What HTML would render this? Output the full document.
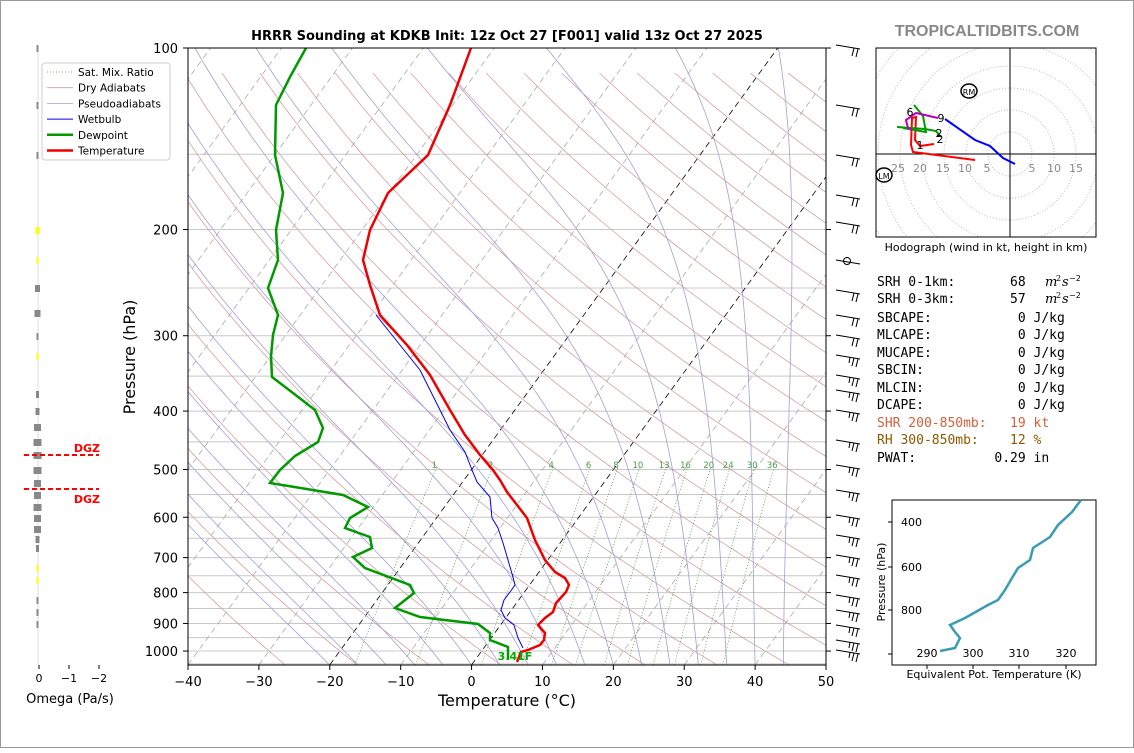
<!DOCTYPE html>
<html><head><meta charset="utf-8"><style>
body{margin:0;background:#fff;width:1134px;height:748px;overflow:hidden;font-family:"Liberation Sans","DejaVu Sans",sans-serif;}
text.m{white-space:pre;}
</style></head><body>
<svg id="s" width="1134" height="748" xmlns="http://www.w3.org/2000/svg" font-family="DejaVu Sans, Liberation Sans, sans-serif">
<rect x="0.5" y="0.5" width="1133" height="747" fill="#fff" stroke="#999"/>
<defs><clipPath id="c"><rect x="188" y="48" width="638" height="617"/></clipPath>
<clipPath id="h"><rect x="876" y="48" width="220" height="189"/></clipPath></defs>
<g id="bg" clip-path="url(#c)"></g>
<g id="fg"></g>
</svg>
<script>
var NS="http://www.w3.org/2000/svg",bg=document.getElementById('bg'),fg=document.getElementById('fg');
function el(p,t,a,txt){var e=document.createElementNS(NS,t);for(var k in a)e.setAttribute(k,a[k]);if(txt!=null)e.textContent=txt;p.appendChild(e);return e;}
function Y(p){return 48+261.9*Math.log(p/100);}
function X(T,p){return 188+(T+40)*7.0889+(665-Y(p))*0.726;}
function pl(g,pts,a){a.points=pts.map(function(q){return q[0].toFixed(1)+','+q[1].toFixed(1)}).join(' ');a.fill='none';el(g,'polyline',a);}
for(var p=100;p<=1050;p+=50)el(bg,'line',{x1:188,x2:826,y1:Y(p),y2:Y(p),stroke:'#c8c8c8','stroke-width':1});
for(var T=-120;T<=50;T+=10){var dash=(T==0||T==-20)?'#000':'#aaa';el(bg,'line',{x1:X(T,1055),y1:665,x2:X(T,100),y2:48,stroke:dash,'stroke-width':0.8,'stroke-dasharray':'6,4'});}
for(var th=-30;th<=220;th+=10){var pts=[];for(var p=1055;p>=100;p-=15){var t=(th+273.15)*Math.pow(p/1000,0.2857)-273.15;pts.push([X(t,p),Y(p)]);}pl(bg,pts,{stroke:'#d4a0a0','stroke-width':0.8});}
function es(t){return 6.112*Math.exp(17.67*t/(t+243.5));}
for(var t0=-20;t0<=44;t0+=4){var t=t0,pts=[];for(var p=1055;p>=100;p-=5){pts.push([X(t,p),Y(p)]);var TK=t+273.15,rs=0.622*es(t)/(p-es(t));var d=(287*TK+2.5e6*rs)/(p*(1004+2.5e6*2.5e6*rs*0.622/(287*TK*TK)));t-=d*5;}pl(bg,pts,{stroke:'#a0a0d8','stroke-width':0.8});}
[1,2,4,6,8,10,13,16,20,24,30,36].forEach(function(w){var pts=[];for(var p=1055;p>=480;p-=20){var e=w/1000*p/(0.622+w/1000);var l=Math.log(e/6.112);var t=243.5*l/(17.67-l);pts.push([X(t,p),Y(p)]);}pl(bg,pts,{stroke:'#4a9a4a','stroke-width':0.8,'stroke-dasharray':'1,2'});var e=w/1000*500/(0.622+w/1000),l=Math.log(e/6.112),t=243.5*l/(17.67-l);el(bg,'text',{x:X(t,490)-5,y:468,'font-size':8.5,fill:'#4a9a4a','text-anchor':'middle'},w);});
pl(bg,[[376,315],[400,345],[420,370],[435,400],[450,430],[465,452],[472,470],[477,482],[490,497],[492,518],[498,528],[503,543],[508,560],[513,577],[515,585],[510,592],[504,600],[501,610],[505,618],[514,625],[518,638],[523,648]],{stroke:'#0000ee','stroke-width':1});
pl(bg,[[306,48],[290,77],[276,105],[275,155],[283,193],[276,230],[278,260],[268,288],[278,315],[273,335],[271,356],[272,377],[293,393],[315,410],[323,428],[318,442],[295,456],[280,470],[270,483],[343,495],[368,507],[350,518],[345,528],[370,537],[372,548],[353,557],[365,568],[410,585],[414,593],[395,608],[420,617],[478,624],[490,633],[490,640],[508,647],[508,660]],{stroke:'#009900','stroke-width':2.5});
pl(bg,[[471,48],[450,105],[428,155],[388,193],[370,230],[363,260],[370,285],[380,315],[407,345],[430,375],[450,410],[465,435],[480,455],[493,470],[500,480],[507,492],[517,505],[527,518],[535,540],[545,560],[555,572],[565,578],[569,585],[566,592],[556,603],[553,612],[545,618],[538,625],[545,633],[544,640],[540,645],[528,650],[521,652],[517,662]],{stroke:'#ee0000','stroke-width':2.5});
el(fg,'text',{x:515,y:660,'font-size':11,'font-weight':'bold',fill:'#00aa00','text-anchor':'middle'},'3.41F');
el(fg,'rect',{x:188,y:48,width:638,height:617,fill:'none',stroke:'#000','stroke-width':1});
[100,200,300,400,500,600,700,800,900,1000].forEach(function(p){var y=Y(p);el(fg,'line',{x1:183,x2:188,y1:y,y2:y,stroke:'#000'});el(fg,'line',{x1:826,x2:831,y1:y,y2:y,stroke:'#000'});el(fg,'text',{x:178,y:y+5,'font-size':13,'text-anchor':'end'},p);});
for(var T=-40;T<=50;T+=10){var x=188+(T+40)*7.0889;el(fg,'line',{x1:x,x2:x,y1:665,y2:670,stroke:'#000'});el(fg,'text',{x:x,y:686,'font-size':13,'text-anchor':'middle'},T<0?'\u2212'+(-T):T);}
el(fg,'text',{x:507,y:706,'font-size':16,'text-anchor':'middle'},'Temperature (°C)');
el(fg,'text',{x:135,y:357,'font-size':16,'text-anchor':'middle',transform:'rotate(-90 135 357)'},'Pressure (hPa)');
el(fg,'text',{x:507,y:40,'font-size':13,'font-weight':'bold','text-anchor':'middle'},'HRRR Sounding at KDKB Init: 12z Oct 27 [F001] valid 13z Oct 27 2025');
el(fg,'text',{x:987,y:36,'font-size':16,'font-weight':'bold',fill:'#888','text-anchor':'middle','font-family':'Liberation Sans'},'TROPICALTIDBITS.COM');
var lg=el(fg,'g',{});el(lg,'rect',{x:42,y:63,width:128,height:97,fill:'#fff',stroke:'#ccc',rx:3});
[['Sat. Mix. Ratio','#4a9a4a',0.8,'1,2'],['Dry Adiabats','#d4a0a0',0.8,''],['Pseudoadiabats','#a0a0d8',0.8,''],['Wetbulb','#0000ee',1,''],['Dewpoint','#009900',2.5,''],['Temperature','#ee0000',2.5,'']].forEach(function(r,i){var y=72+i*15.7;el(lg,'line',{x1:47,x2:73,y1:y,y2:y,stroke:r[1],'stroke-width':r[2],'stroke-dasharray':r[3]});el(lg,'text',{x:78,y:y+4,'font-size':10.5},r[0]);});
[45,105,155,195,222,260,290,315,335,355,375,390,410,440,465,490,515,535,555,575,595,610,625,640,650].forEach(function(y,i){el(fg,'line',{x1:836,y1:y,x2:860,y2:y+4,stroke:'#000','stroke-width':1});if(i!=5){el(fg,'line',{x1:858,y1:y+4,x2:856,y2:y+12,stroke:'#000'});el(fg,'line',{x1:854,y1:y+3,x2:852,y2:y+11,stroke:'#000'});if(i>8){el(fg,'line',{x1:850,y1:y+2,x2:849,y2:y+8,stroke:'#000'});}}});
el(fg,'circle',{cx:847,cy:261,r:3.5,fill:'none',stroke:'#000'});
el(fg,'line',{x1:38,x2:38,y1:48,y2:665,stroke:'#ddd'});
[[48,1],[105,1],[155,1],[230,3,'#ff0'],[260,1,'#ff0'],[288,4],[313,5],[336,1],[356,1,'#ff0'],[394,2],[411,3],[427,6],[442,7],[455,7],[470,7],[483,6],[495,6],[507,7],[518,6],[529,6],[539,3],[548,2],[568,1,'#ff0'],[580,1,'#ff0'],[600,1],[612,1],[624,1]].forEach(function(b){el(fg,'rect',{x:38-b[1]/2-1,y:b[0]-3,width:b[1]+1,height:7,fill:b[2]||'#888'});});
el(fg,'line',{x1:24,x2:99,y1:455,y2:455,stroke:'#f00','stroke-width':2,'stroke-dasharray':'5,3'});
el(fg,'line',{x1:24,x2:99,y1:489,y2:489,stroke:'#f00','stroke-width':2,'stroke-dasharray':'5,3'});
el(fg,'text',{x:100,y:452,'font-size':11,'font-weight':'bold',fill:'#f00','text-anchor':'end'},'DGZ');
el(fg,'text',{x:100,y:503,'font-size':11,'font-weight':'bold',fill:'#f00','text-anchor':'end'},'DGZ');
[['0',39],['\u22121',69],['\u22122',99]].forEach(function(t){el(fg,'line',{x1:t[1],x2:t[1],y1:665,y2:669,stroke:'#000'});el(fg,'text',{x:t[1],y:682,'font-size':11,'text-anchor':'middle'},t[0]);});
el(fg,'text',{x:70,y:703,'font-size':13,'text-anchor':'middle'},'Omega (Pa/s)');
var hg=el(fg,'g',{'clip-path':'url(#h)'});var cx=1010,cy=154,k=4.4;
for(var r=5;r<=40;r+=5)el(hg,'circle',{cx:cx,cy:cy,r:r*k,fill:'none',stroke:'#bbb','stroke-dasharray':'1,2'});
el(hg,'line',{x1:876,x2:1096,y1:cy,y2:cy,stroke:'#000'});el(hg,'line',{x1:cx,x2:cx,y1:48,y2:237,stroke:'#000'});
pl(hg,[[975,160],[913,152],[911,145],[912,118],[916,117],[915,140],[920,146],[934,144]],{stroke:'#f00','stroke-width':2});
pl(hg,[[897,127],[925,129],[936,131],[940,136]],{stroke:'#090','stroke-width':2});
pl(hg,[[914,105],[923,116],[926,132],[903,128]],{stroke:'#090','stroke-width':2});
pl(hg,[[938,118],[916,113],[906,120],[908,128],[912,130]],{stroke:'#b0b','stroke-width':2});
pl(hg,[[945,119],[975,140],[990,146],[1003,158],[1015,164]],{stroke:'#00f','stroke-width':2});
[['6',910,116],['9',941,122],['1',920,149],['2',940,143],['2',939,137]].forEach(function(t){el(fg,'text',{x:t[1],y:t[2],'font-size':11,'text-anchor':'middle'},t[0]);});
[['25',898],['20',920],['15',943],['10',965],['5',987],['5',1032],['10',1054],['15',1076]].forEach(function(t){el(fg,'text',{x:t[1],y:172,'font-size':11,fill:'#888','text-anchor':'middle'},t[0]);});
el(fg,'ellipse',{cx:969,cy:91,rx:8,ry:7,fill:'#fff',stroke:'#000','stroke-width':1.5});el(fg,'text',{x:969,y:95,'font-size':8,'text-anchor':'middle'},'RM');
el(fg,'ellipse',{cx:884,cy:175,rx:8,ry:7,fill:'#fff',stroke:'#000','stroke-width':1.5});el(fg,'text',{x:884,y:179,'font-size':8,'text-anchor':'middle'},'LM');
el(fg,'rect',{x:876,y:48,width:220,height:189,fill:'none',stroke:'#000'});
el(fg,'text',{x:986,y:251,'font-size':11,'text-anchor':'middle'},'Hodograph (wind in kt, height in km)');
var tl=[['SRH 0-1km:       68','#000',282,1],['SRH 0-3km:       57','#000',299,1],['SBCAPE:           0 J/kg','#000',318],['MLCAPE:           0 J/kg','#000',335],['MUCAPE:           0 J/kg','#000',353],['SBCIN:            0 J/kg','#000',370],['MLCIN:            0 J/kg','#000',388],['DCAPE:            0 J/kg','#000',405],['SHR 200-850mb:   19 kt','#d2603a',423],['RH 300-850mb:    12 %','#8b5a00',440],['PWAT:          0.29 in','#000',458]];
tl.forEach(function(t){el(fg,'text',{x:877,y:t[2]+4,'font-size':13,fill:t[1],'class':'m','font-family':'DejaVu Sans Mono, Liberation Mono, monospace'},t[0]);if(t[3]){el(fg,'text',{x:1045,y:t[2]+4,'font-size':13,'font-style':'italic','font-family':'DejaVu Serif, serif'},'m');el(fg,'text',{x:1056,y:t[2]-1,'font-size':8,'font-family':'DejaVu Serif, serif'},'2');el(fg,'text',{x:1062,y:t[2]+4,'font-size':13,'font-style':'italic','font-family':'DejaVu Serif, serif'},'s');el(fg,'text',{x:1069,y:t[2]-1,'font-size':8,'font-family':'DejaVu Sans'},'\u22122');}});
el(fg,'rect',{x:892,y:500,width:204,height:165,fill:'none',stroke:'#000'});
[[400,522],[600,567],[800,610]].forEach(function(t){el(fg,'line',{x1:888,x2:892,y1:t[1],y2:t[1],stroke:'#000'});el(fg,'text',{x:922,y:t[1]+4,'font-size':11,'text-anchor':'end'},t[0]);});
el(fg,'line',{x1:888,x2:892,y1:654,y2:654,stroke:'#000'});
[[290,927],[300,973],[310,1019],[320,1066]].forEach(function(t){el(fg,'line',{x1:t[1],x2:t[1],y1:665,y2:669,stroke:'#000'});el(fg,'text',{x:t[1],y:657,'font-size':11,'text-anchor':'middle'},t[0]);});
el(fg,'text',{x:994,y:678,'font-size':11,'text-anchor':'middle'},'Equivalent Pot. Temperature (K)');
el(fg,'text',{x:885,y:582,'font-size':11,'text-anchor':'middle',transform:'rotate(-90 885 582)'},'Pressure (hPa)');
pl(fg,[[1081,500],[1072,512],[1058,525],[1050,537],[1033,548],[1030,560],[1018,568],[1012,578],[1005,590],[998,600],[988,605],[965,618],[950,625],[955,632],[960,638],[955,648],[940,651]],{stroke:'#3a9bb5','stroke-width':2.5});
</script>
</body></html>
